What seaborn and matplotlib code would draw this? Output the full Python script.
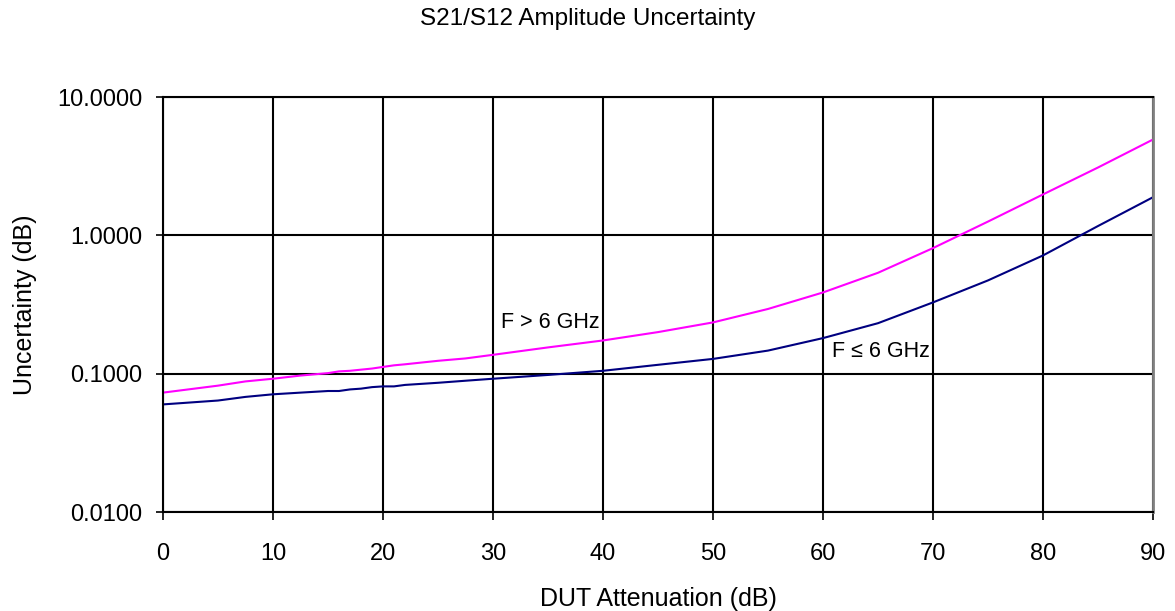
import matplotlib
matplotlib.use("Agg")
import matplotlib.pyplot as plt
import pandas as pd
import seaborn as sns
from matplotlib.ticker import FixedLocator, FixedFormatter, NullLocator

sns.set_theme(style="white")
plt.rcParams['font.family'] = ['Liberation Sans', 'DejaVu Sans']
plt.rcParams['text.color'] = 'black'
plt.rcParams['axes.labelcolor'] = 'black'
plt.rcParams['xtick.color'] = 'black'
plt.rcParams['ytick.color'] = 'black'

# DUT attenuation (dB)
atten_hi = [0, 5, 7.5, 10, 12.5, 15, 16, 17, 18, 19, 20, 21, 22, 25, 27.5, 30,
            35, 40, 45, 50, 55, 60, 65, 70, 75, 80, 85, 90]
unc_hi = [0.073, 0.082, 0.088, 0.092, 0.097, 0.101, 0.104, 0.105, 0.107, 0.109,
          0.112, 0.115, 0.117, 0.124, 0.129, 0.137, 0.155, 0.174, 0.200, 0.235,
          0.294, 0.387, 0.537, 0.81, 1.26, 1.98, 3.1, 4.94]

atten_lo = [0, 5, 7.5, 10, 12.5, 15, 16, 17, 18, 19, 20, 21, 22, 25, 27.5, 30,
            35, 40, 45, 50, 55, 60, 65, 70, 75, 80, 85, 90]
unc_lo = [0.060, 0.064, 0.068, 0.071, 0.073, 0.075, 0.075, 0.077, 0.078, 0.080,
          0.081, 0.081, 0.083, 0.086, 0.089, 0.092, 0.098, 0.105, 0.116, 0.128,
          0.147, 0.181, 0.232, 0.328, 0.473, 0.717, 1.17, 1.89]

y_ticks = [0.01, 0.1, 1, 10]
y_labels = ["0.0100", "0.1000", "1.0000", "10.0000"]
x_ticks = [0, 10, 20, 30, 40, 50, 60, 70, 80, 90]

df = pd.concat([
    pd.DataFrame({'atten': atten_hi, 'unc': unc_hi, 'band': 'F > 6 GHz'}),
    pd.DataFrame({'atten': atten_lo, 'unc': unc_lo, 'band': 'F ≤ 6 GHz'}),
])

fig = plt.figure(figsize=(11.75, 6.11), dpi=100)
ax = fig.add_axes([0.1387, 0.162, 0.8426, 0.679])

sns.lineplot(data=df, x='atten', y='unc', hue='band',
             palette={'F > 6 GHz': '#ff00ff', 'F ≤ 6 GHz': '#000080'},
             linewidth=1.5, legend=False, ax=ax)

ax.set_yscale('log')
ax.set_xlim(0, 90)
ax.set_ylim(0.01, 10)
ax.yaxis.set_major_locator(FixedLocator(y_ticks))
ax.yaxis.set_major_formatter(FixedFormatter(y_labels))
ax.yaxis.set_minor_locator(NullLocator())
ax.set_xticks(x_ticks)
ax.grid(True, color='black', linewidth=1.5)
ax.set_axisbelow(True)
for s in ['left', 'bottom', 'top']:
    ax.spines[s].set_color('black')
    ax.spines[s].set_linewidth(1.5)
ax.spines['right'].set_color('#808080')
ax.spines['right'].set_linewidth(2)

ax.tick_params(axis='y', which='major', left=True, length=5, width=1.2,
               labelsize=17, pad=10)
ax.tick_params(axis='x', which='major', bottom=True, length=6, width=1.2,
               labelsize=17, pad=16)

ax.set_xlabel('DUT Attenuation (dB)', fontsize=18, labelpad=16)
ax.set_ylabel('Uncertainty (dB)', fontsize=18, labelpad=14)
fig.text(0.5, 0.969, 'S21/S12 Amplitude Uncertainty', fontsize=17.5,
         ha='center', va='center')

ax.text(30.7, 0.234, 'F > 6 GHz', fontsize=15.5, ha='left', va='center')
ax.text(60.8, 0.144, 'F ≤ 6 GHz', fontsize=15.5, ha='left', va='center')

fig.savefig('out.png', dpi=100, facecolor='white')
